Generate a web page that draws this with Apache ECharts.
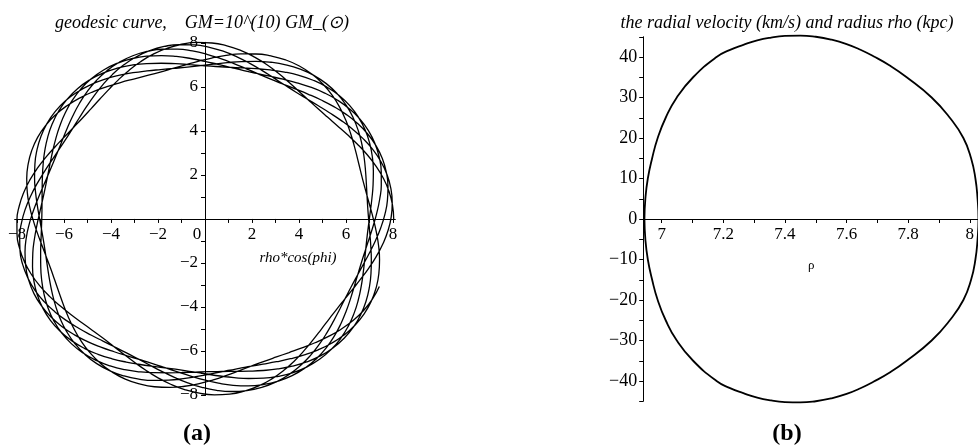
<!DOCTYPE html>
<html>
<head>
<meta charset="utf-8">
<script src="https://cdn.jsdelivr.net/npm/echarts@6/dist/echarts.min.js"></script>
<style>html,body{margin:0;padding:0;background:#fff}#c{width:978px;height:448px}</style>
</head>
<body>
<div id="c"></div>
<script>
// ---------- Panel (a): geodesic orbit, polar angle phi (deg) and radius rho (kpc) ----------
const PHI_DEG = [
0,4.625,9.25,13.875,18.5,23.125,27.75,32.375,37,41.625,46.25,50.875,55.5,60.125,64.75,69.375,74,78.625,83.25,87.875,
92.5,97.125,101.75,106.375,111,115.625,120.25,124.875,129.5,134.125,138.75,143.375,148,152.625,157.25,161.875,166.5,171.125,175.75,180.375,
185,189.625,194.25,198.875,203.5,208.125,212.75,217.375,222,226.625,231.25,235.875,240.5,245.125,249.75,254.375,259,263.625,268.25,272.875,
277.5,282.125,286.75,291.375,296,300.625,305.25,309.875,314.5,319.125,323.75,328.375,333,337.625,342.25,346.875,351.5,356.125,360.75,365.375,
370,374.625,379.25,383.875,388.5,393.125,397.75,402.375,407,411.625,416.25,420.875,425.5,430.125,434.75,439.375,444,448.625,453.25,457.875,
462.5,467.125,471.75,476.375,481,485.625,490.25,494.875,499.5,504.125,508.75,513.375,518,522.625,527.25,531.875,536.5,541.125,545.75,550.375,
555,559.625,564.25,568.875,573.5,578.125,582.75,587.375,592,596.625,601.25,605.875,610.5,615.125,619.75,624.375,629,633.625,638.25,642.875,
647.5,652.125,656.75,661.375,666,670.625,675.25,679.875,684.5,689.125,693.75,698.375,703,707.625,712.25,716.875,721.5,726.125,730.75,735.375,
740,744.625,749.25,753.875,758.5,763.125,767.75,772.375,777,781.625,786.25,790.875,795.5,800.125,804.75,809.375,814,818.625,823.25,827.875,
832.5,837.125,841.75,846.375,851,855.625,860.25,864.875,869.5,874.125,878.75,883.375,888,892.625,897.25,901.875,906.5,911.125,915.75,920.375,
925,929.625,934.25,938.875,943.5,948.125,952.75,957.375,962,966.625,971.25,975.875,980.5,985.125,989.75,994.375,999,1003.625,1008.25,1012.875,
1017.5,1022.125,1026.75,1031.375,1036,1040.625,1045.25,1049.875,1054.5,1059.125,1063.75,1068.375,1073,1077.625,1082.25,1086.875,1091.5,1096.125,1100.75,1105.375,
1110,1114.625,1119.25,1123.875,1128.5,1133.125,1137.75,1142.375,1147,1151.625,1156.25,1160.875,1165.5,1170.125,1174.75,1179.375,1184,1188.625,1193.25,1197.875,
1202.5,1207.125,1211.75,1216.375,1221,1225.625,1230.25,1234.875,1239.5,1244.125,1248.75,1253.375,1258,1262.625,1267.25,1271.875,1276.5,1281.125,1285.75,1290.375,
1295,1299.625,1304.25,1308.875,1313.5,1318.125,1322.75,1327.375,1332,1336.625,1341.25,1345.875,1350.5,1355.125,1359.75,1364.375,1369,1373.625,1378.25,1382.875,
1387.5,1392.125,1396.75,1401.375,1406,1410.625,1415.25,1419.875,1424.5,1429.125,1433.75,1438.375,1443,1447.625,1452.25,1456.875,1461.5,1466.125,1470.75,1475.375,
1480,1484.625,1489.25,1493.875,1498.5,1503.125,1507.75,1512.375,1517,1521.625,1526.25,1530.875,1535.5,1540.125,1544.75,1549.375,1554,1558.625,1563.25,1567.875,
1572.5,1577.125,1581.75,1586.375,1591,1595.625,1600.25,1604.875,1609.5,1614.125,1618.75,1623.375,1628,1632.625,1637.25,1641.875,1646.5,1651.125,1655.75,1660.375,
1665,1669.625,1674.25,1678.875,1683.5,1688.125,1692.75,1697.375,1702,1706.625,1711.25,1715.875,1720.5,1725.125,1729.75,1734.375,1739,1743.625,1748.25,1752.875,
1757.5,1762.125,1766.75,1771.375,1776,1780.625,1785.25,1789.875,1794.5,1799.125,1803.75,1808.375,1813,1817.625,1822.25,1826.875,1831.5,1836.125,1840.75,1845.375,
1850,1854.625,1859.25,1863.875,1868.5,1873.125,1877.75,1882.375,1887,1891.625,1896.25,1900.875,1905.5,1910.125,1914.75,1919.375,1924,1928.625,1933.25,1937.875,
1942.5,1947.125,1951.75,1956.375,1961,1965.625,1970.25,1974.875,1979.5,1984.125,1988.75,1993.375,1998,2002.625,2007.25,2011.875,2016.5,2021.125,2025.75,2030.375,
2035,2039.625,2044.25,2048.875,2053.5,2058.125,2062.75,2067.375,2072,2076.625,2081.25,2085.875,2090.5,2095.125,2099.75,2104.375,2109,2113.625,2118.25,2122.875,
2127.5,2132.125,2136.75,2141.375,2146,2150.625,2155.25,2159.875,2164.5,2169.125,2173.75,2178.375,2183,2187.625,2192.25,2196.875,2201.5,2206.125,2210.75,2215.375,
2220,2224.625,2229.25,2233.875,2238.5,2243.125,2247.75,2252.375,2257,2261.625,2266.25,2270.875,2275.5,2280.125,2284.75,2289.375,2294,2298.625,2303.25,2307.875,
2312.5,2317.125,2321.75,2326.375,2331,2335.625,2340.25,2344.875,2349.5,2354.125,2358.75,2363.375,2368,2372.625,2377.25,2381.875,2386.5,2391.125,2395.75,2400.375,
2405,2409.625,2414.25,2418.875,2423.5,2428.125,2432.75,2437.375,2442,2446.625,2451.25,2455.875,2460.5,2465.125,2469.75,2474.375,2479,2483.625,2488.25,2492.875,
2497.5
];
const RHO_KPC = [
8.03,8.003,7.926,7.806,7.655,7.487,7.319,7.168,7.048,6.971,6.944,6.971,7.048,7.168,7.319,7.487,7.655,7.806,7.926,8.003,
8.03,8.003,7.926,7.806,7.655,7.487,7.319,7.168,7.048,6.971,6.944,6.971,7.048,7.168,7.319,7.487,7.655,7.806,7.926,8.003,
8.03,8.003,7.926,7.806,7.655,7.487,7.319,7.168,7.048,6.971,6.944,6.971,7.048,7.168,7.319,7.487,7.655,7.806,7.926,8.003,
8.03,8.003,7.926,7.806,7.655,7.487,7.319,7.168,7.048,6.971,6.944,6.971,7.048,7.168,7.319,7.487,7.655,7.806,7.926,8.003,
8.03,8.003,7.926,7.806,7.655,7.487,7.319,7.168,7.048,6.971,6.944,6.971,7.048,7.168,7.319,7.487,7.655,7.806,7.926,8.003,
8.03,8.003,7.926,7.806,7.655,7.487,7.319,7.168,7.048,6.971,6.944,6.971,7.048,7.168,7.319,7.487,7.655,7.806,7.926,8.003,
8.03,8.003,7.926,7.806,7.655,7.487,7.319,7.168,7.048,6.971,6.944,6.971,7.048,7.168,7.319,7.487,7.655,7.806,7.926,8.003,
8.03,8.003,7.926,7.806,7.655,7.487,7.319,7.168,7.048,6.971,6.944,6.971,7.048,7.168,7.319,7.487,7.655,7.806,7.926,8.003,
8.03,8.003,7.926,7.806,7.655,7.487,7.319,7.168,7.048,6.971,6.944,6.971,7.048,7.168,7.319,7.487,7.655,7.806,7.926,8.003,
8.03,8.003,7.926,7.806,7.655,7.487,7.319,7.168,7.048,6.971,6.944,6.971,7.048,7.168,7.319,7.487,7.655,7.806,7.926,8.003,
8.03,8.003,7.926,7.806,7.655,7.487,7.319,7.168,7.048,6.971,6.944,6.971,7.048,7.168,7.319,7.487,7.655,7.806,7.926,8.003,
8.03,8.003,7.926,7.806,7.655,7.487,7.319,7.168,7.048,6.971,6.944,6.971,7.048,7.168,7.319,7.487,7.655,7.806,7.926,8.003,
8.03,8.003,7.926,7.806,7.655,7.487,7.319,7.168,7.048,6.971,6.944,6.971,7.048,7.168,7.319,7.487,7.655,7.806,7.926,8.003,
8.03,8.003,7.926,7.806,7.655,7.487,7.319,7.168,7.048,6.971,6.944,6.971,7.048,7.168,7.319,7.487,7.655,7.806,7.926,8.003,
8.03,8.003,7.926,7.806,7.655,7.487,7.319,7.168,7.048,6.971,6.944,6.971,7.048,7.168,7.319,7.487,7.655,7.806,7.926,8.003,
8.03,8.003,7.926,7.806,7.655,7.487,7.319,7.168,7.048,6.971,6.944,6.971,7.048,7.168,7.319,7.487,7.655,7.806,7.926,8.003,
8.03,8.003,7.926,7.806,7.655,7.487,7.319,7.168,7.048,6.971,6.944,6.971,7.048,7.168,7.319,7.487,7.655,7.806,7.926,8.003,
8.03,8.003,7.926,7.806,7.655,7.487,7.319,7.168,7.048,6.971,6.944,6.971,7.048,7.168,7.319,7.487,7.655,7.806,7.926,8.003,
8.03,8.003,7.926,7.806,7.655,7.487,7.319,7.168,7.048,6.971,6.944,6.971,7.048,7.168,7.319,7.487,7.655,7.806,7.926,8.003,
8.03,8.003,7.926,7.806,7.655,7.487,7.319,7.168,7.048,6.971,6.944,6.971,7.048,7.168,7.319,7.487,7.655,7.806,7.926,8.003,
8.03,8.003,7.926,7.806,7.655,7.487,7.319,7.168,7.048,6.971,6.944,6.971,7.048,7.168,7.319,7.487,7.655,7.806,7.926,8.003,
8.03,8.003,7.926,7.806,7.655,7.487,7.319,7.168,7.048,6.971,6.944,6.971,7.048,7.168,7.319,7.487,7.655,7.806,7.926,8.003,
8.03,8.003,7.926,7.806,7.655,7.487,7.319,7.168,7.048,6.971,6.944,6.971,7.048,7.168,7.319,7.487,7.655,7.806,7.926,8.003,
8.03,8.003,7.926,7.806,7.655,7.487,7.319,7.168,7.048,6.971,6.944,6.971,7.048,7.168,7.319,7.487,7.655,7.806,7.926,8.003,
8.03,8.003,7.926,7.806,7.655,7.487,7.319,7.168,7.048,6.971,6.944,6.971,7.048,7.168,7.319,7.487,7.655,7.806,7.926,8.003,
8.03,8.003,7.926,7.806,7.655,7.487,7.319,7.168,7.048,6.971,6.944,6.971,7.048,7.168,7.319,7.487,7.655,7.806,7.926,8.003,
8.03,8.003,7.926,7.806,7.655,7.487,7.319,7.168,7.048,6.971,6.944,6.971,7.048,7.168,7.319,7.487,7.655,7.806,7.926,8.003,
8.03
];
const A_XTICKS = [-8,-7,-6,-5,-4,-3,-2,-1,0,1,2,3,4,5,6,7,8];
const A_XLABELS = [-8,-6,-4,-2,0,2,4,6,8];
const A_YTICKS = [-8,-7,-6,-5,-4,-3,-2,-1,0,1,2,3,4,5,6,7,8];
const A_YLABELS = [-8,-6,-4,-2,2,4,6,8];

// ---------- Panel (b): radial velocity (km/s) against radius rho (kpc) ----------
const B_RHO = [
6.944,6.947,6.955,6.969,6.987,7.013,7.049,7.102,7.178,7.22,7.265,7.31,7.355,7.4,7.45,
7.5,7.55,7.6,7.645,7.687,7.74,7.795,7.876,7.935,7.979,8.004,8.018,8.025,8.028,
8.025,8.018,8.004,7.979,7.935,7.876,7.795,7.74,7.687,7.645,7.6,7.55,7.5,
7.45,7.4,7.355,7.31,7.265,7.22,7.178,7.102,7.049,7.013,6.987,6.969,6.955,6.947,6.944
];
const B_VR = [
0,5,10,15,20,25,30,35,40,41.7,43,44.1,44.8,45.2,45.3,
45,44.3,43.2,41.8,40.2,37.9,35,30,25,20,15,10,5,0,
-5,-10,-15,-20,-25,-30,-35,-37.9,-40.2,-41.8,-43.2,-44.3,-45,
-45.3,-45.2,-44.8,-44.1,-43,-41.7,-40,-35,-30,-25,-20,-15,-10,-5,0
];
const B_XTICKS = [7,7.1,7.2,7.3,7.4,7.5,7.6,7.7,7.8,7.9,8];
const B_XLABELS = [7,7.2,7.4,7.6,7.8,8];
const B_YTICKS = [-45,-40,-35,-30,-25,-20,-15,-10,-5,0,5,10,15,20,25,30,35,40,45];
const B_YLABELS = [-40,-30,-20,-10,0,10,20,30,40];

// the x axis of panel (a) is rho*cos(phi), the y axis rho*sin(phi)
const orbitXY = PHI_DEG.map((p, i) => {
  const a = p * Math.PI / 180;
  return [RHO_KPC[i] * Math.cos(a), RHO_KPC[i] * Math.sin(a)];
});
const phaseXY = B_RHO.map((r, i) => [r, B_VR[i]]);

const SERIF = '"Liberation Serif","Times New Roman",serif';
const fmt = v => String(v).replace('-', '\u2212');
const black = '#000';

// layout (pixels)
const GA = {left: 14.65, top: 42.3, width: 380.7, height: 353.3};
const GB = {left: 643.2, top: 36.75, width: 335.9, height: 364.5};
const A_X0 = 205, A_Y0 = GA.top + GA.height / 2;
const B_Y0 = GB.top + 45 / 90 * GB.height;

function axisBase(extra) {
  return Object.assign({
    type: 'value',
    splitLine: {show: false},
    axisLine: {show: true, onZero: false, lineStyle: {color: black, width: 1}},
  }, extra);
}

const chart = echarts.init(document.getElementById('c'), null, {renderer: 'canvas'});
chart.setOption({
  animation: false,
  backgroundColor: '#fff',
  grid: [
    Object.assign({containLabel: false, outerBoundsMode: 'none'}, GA),
    Object.assign({containLabel: false, outerBoundsMode: 'none'}, GB)
  ],
  xAxis: [
    axisBase({
      gridIndex: 0, min: -8.1, max: 8.1, position: 'bottom',
      offset: -(GA.top + GA.height - A_Y0),
      axisTick: {show: true, customValues: A_XTICKS, length: 4, lineStyle: {color: black}},
      axisLabel: {
        customValues: A_XLABELS, margin: 7, color: black, fontFamily: SERIF, fontSize: 17,
        formatter: v => v === 0 ? '{o|0}' : fmt(v),
        rich: {o: {fontFamily: SERIF, fontSize: 17, color: black, padding: [0, 16, 0, 0]}}
      }
    }),
    axisBase({
      gridIndex: 1, min: 6.94, max: 8.03, position: 'bottom',
      offset: -(GB.top + GB.height - B_Y0),
      name: '\u03c1', nameLocation: 'middle', nameGap: 40,
      nameTextStyle: {fontFamily: SERIF, fontSize: 13, color: black},
      axisTick: {show: true, customValues: B_XTICKS, length: 4, lineStyle: {color: black}},
      axisLabel: {customValues: B_XLABELS, margin: 7, color: black, fontFamily: SERIF, fontSize: 17, formatter: fmt}
    })
  ],
  yAxis: [
    axisBase({
      gridIndex: 0, min: -8.03, max: 8.03, position: 'left',
      offset: -(A_X0 - GA.left),
      axisTick: {show: true, customValues: A_YTICKS, length: 4, lineStyle: {color: black}},
      axisLabel: {customValues: A_YLABELS, margin: 7, color: black, fontFamily: SERIF, fontSize: 17, formatter: fmt}
    }),
    axisBase({
      gridIndex: 1, min: -45, max: 45, position: 'left', offset: 0,
      axisTick: {show: true, customValues: B_YTICKS, length: 4, lineStyle: {color: black}},
      axisLabel: {customValues: B_YLABELS, margin: 6, color: black, fontFamily: SERIF, fontSize: 18, formatter: fmt}
    })
  ],
  series: [
    {
      type: 'line', xAxisIndex: 0, yAxisIndex: 0, data: orbitXY,
      showSymbol: false, smooth: true, clip: false,
      lineStyle: {color: black, width: 1.3}
    },
    {
      type: 'line', xAxisIndex: 1, yAxisIndex: 1, data: phaseXY,
      showSymbol: false, smooth: true, clip: false,
      lineStyle: {color: black, width: 1.8}
    }
  ],
  graphic: [
    {type: 'text', x: 202, y: 23, style: {text: 'geodesic curve,    GM=10^(10) GM_(\u2299)', font: 'italic 18px ' + SERIF, fill: black, textAlign: 'center', textVerticalAlign: 'middle', align: 'center', verticalAlign: 'middle'}},
    {type: 'text', x: 787, y: 23, style: {text: 'the radial velocity (km/s) and radius rho (kpc)', font: 'italic 18px ' + SERIF, fill: black, textAlign: 'center', textVerticalAlign: 'middle', align: 'center', verticalAlign: 'middle'}},
    {type: 'text', x: 298, y: 258, style: {text: 'rho*cos(phi)', font: 'italic 15px ' + SERIF, fill: black, textAlign: 'center', textVerticalAlign: 'middle', align: 'center', verticalAlign: 'middle'}},
    {type: 'text', x: 197, y: 434, style: {text: '(a)', font: 'bold 24px ' + SERIF, fill: black, textAlign: 'center', textVerticalAlign: 'middle', align: 'center', verticalAlign: 'middle'}},
    {type: 'text', x: 787, y: 434, style: {text: '(b)', font: 'bold 24px ' + SERIF, fill: black, textAlign: 'center', textVerticalAlign: 'middle', align: 'center', verticalAlign: 'middle'}}
  ]
});
</script>
</body>
</html>
